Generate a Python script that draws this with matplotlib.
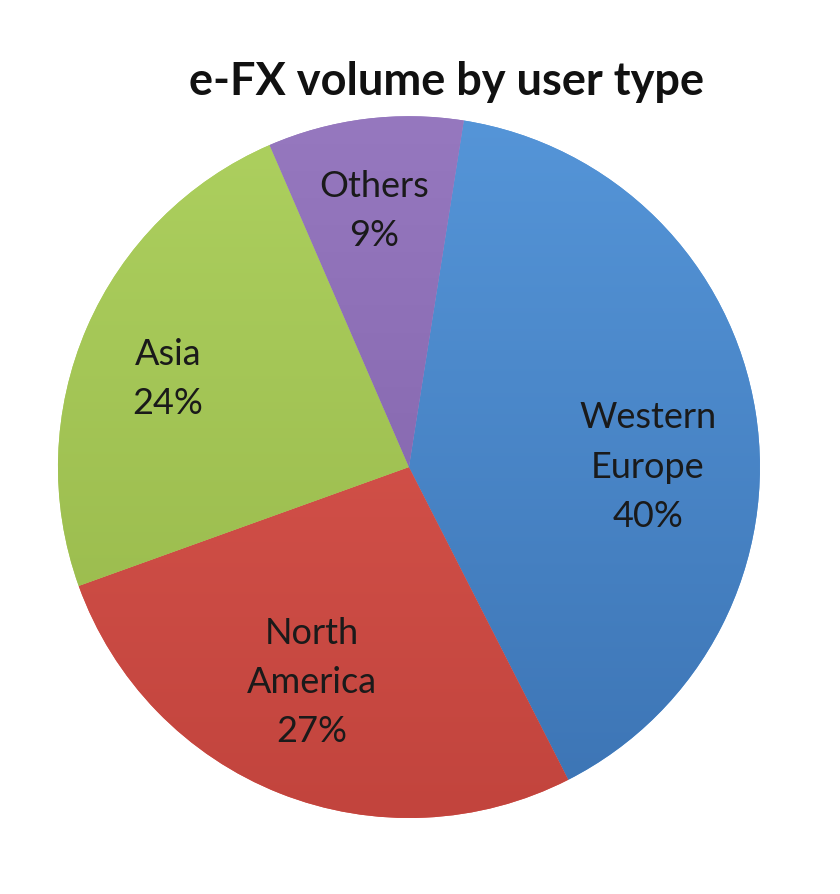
import numpy as np
import matplotlib.pyplot as plt
from matplotlib.colors import LinearSegmentedColormap

plt.rcParams['font.family'] = ['Lato', 'DejaVu Sans']

regions = ['Western\nEurope', 'North\nAmerica', 'Asia', 'Others']
shares = [40, 27, 24, 9]
top_colors = ['#5595d8', '#de5a52', '#add05f', '#9678bf']
bottom_colors = ['#3c74b4', '#c2443d', '#95b548', '#7c5ea5']

fig = plt.figure(figsize=(8.4, 8.94), dpi=100)
ax = fig.add_axes([0.069, 0.085, 0.8357, 0.785])

wedges, _ = ax.pie(shares, startangle=81, counterclock=False, radius=1.0,
                   colors=top_colors, wedgeprops=dict(linewidth=0))

# soft vertical gradient inside each wedge, like the spreadsheet original
yy = np.linspace(0, 1, 256).reshape(-1, 1)
for w, c1, c2 in zip(wedges, top_colors, bottom_colors):
    cmap = LinearSegmentedColormap.from_list('g', [c2, c1])
    im = ax.imshow(yy, cmap=cmap, extent=(-1, 1, -1, 1), origin='lower',
                   aspect='auto', zorder=w.get_zorder() + 0.1)
    im.set_clip_path(w)

label_pos = [(0.68, 0.0), (-0.276, -0.613), (-0.687, 0.25), (-0.10, 0.73)]
for name, val, (x, y) in zip(regions, shares, label_pos):
    ax.text(x, y, f'{name}\n{val}%', ha='center', va='center', fontsize=26,
            color='#1a1a1a', linespacing=1.6, zorder=10)

ax.set_xlim(-1, 1)
ax.set_ylim(-1, 1)
ax.set_aspect('auto')
ax.axis('off')

fig.text(0.532, 0.908, 'e-FX volume by user type', ha='center', va='center',
         fontsize=32.5, fontweight='bold', color='#111111')

fig.savefig('out.png', dpi=100)
